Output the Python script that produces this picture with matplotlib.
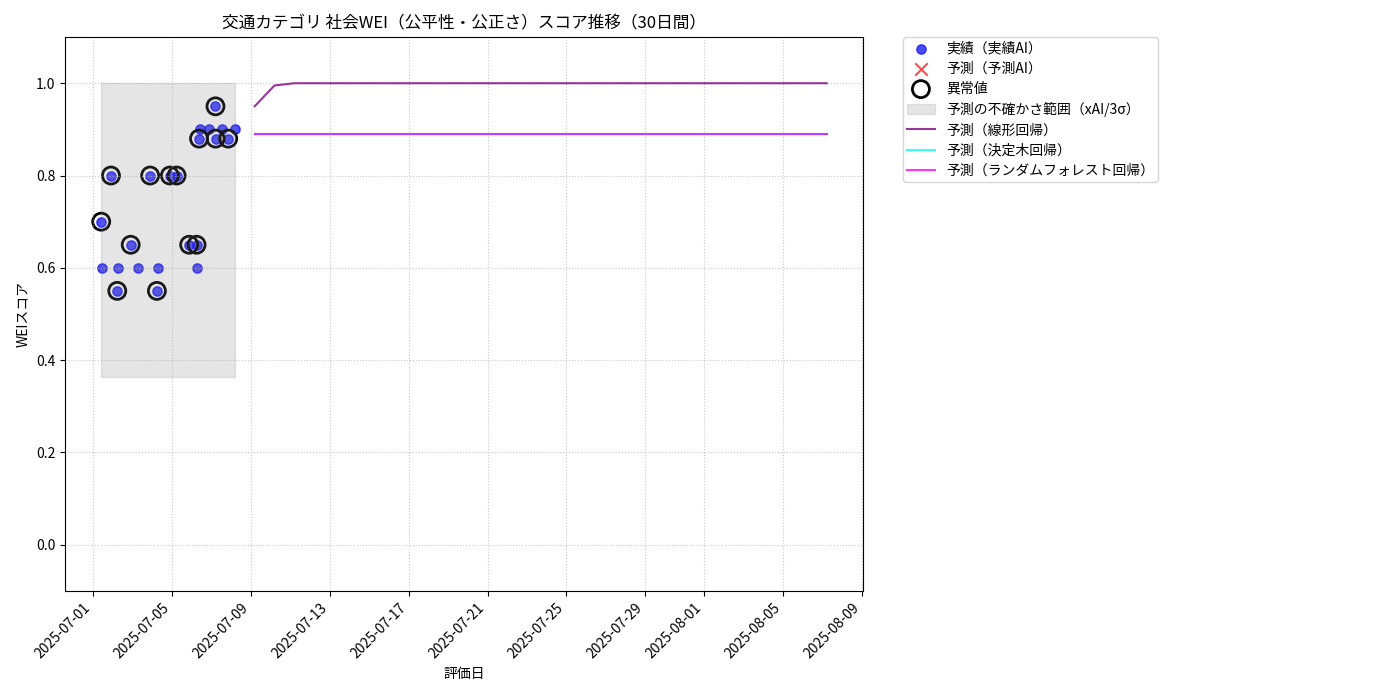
#!/usr/bin/env python3
"""
交通カテゴリ 社会WEI スコア推移 (実績 + 予測)
"""

import numpy as np
import pandas as pd
import matplotlib
matplotlib.use('Agg')
import matplotlib.pyplot as plt

plt.rcParams['font.family'] = ['Noto Sans CJK JP', 'DejaVu Sans']

# 実績データ
actual_dates = [
    '2025-07-01 10:00', '2025-07-01 10:40', '2025-07-01 21:50',
    '2025-07-02 05:30', '2025-07-02 06:45', '2025-07-02 21:50',
    '2025-07-03 07:00', '2025-07-03 21:30', '2025-07-04 05:45',
    '2025-07-04 06:30', '2025-07-04 21:30', '2025-07-05 05:45',
    '2025-07-05 21:00', '2025-07-06 06:00', '2025-07-06 06:45',
    '2025-07-06 09:00', '2025-07-06 10:00', '2025-07-06 21:00',
    '2025-07-07 05:00', '2025-07-07 05:10', '2025-07-07 12:30',
    '2025-07-07 20:30', '2025-07-08 04:40',
]
actual_scores = [
    0.70, 0.60, 0.80,
    0.55, 0.60, 0.65,
    0.60, 0.80, 0.55,
    0.60, 0.80, 0.80,
    0.65, 0.65, 0.60,
    0.88, 0.90, 0.90,
    0.95, 0.88, 0.90,
    0.88, 0.90,
]
is_outlier = [
    True, False, True,
    True, False, True,
    False, True, True,
    False, True, True,
    True, True, False,
    True, False, False,
    True, True, False,
    True, False,
]

# 不確かさ範囲 (xAI/3σ)
band_low = 0.364
band_high = 1.0

# 予測 (30日間)
pred_days = 30
linear_pred = [0.95, 0.995] + [1.0] * 28
tree_pred = [0.89] * 30
forest_pred = [0.89] * 30

dates = pd.to_datetime(actual_dates)
scores = np.array(actual_scores)
outlier = np.array(is_outlier)
pred_dates = dates[-1] + pd.to_timedelta(np.arange(1, pred_days + 1), unit='D')

fig = plt.figure(figsize=(14, 7), dpi=100)
ax = fig.add_axes([0.0464, 0.156, 0.570, 0.791])

ax.scatter(dates, scores, c='blue', alpha=0.7, s=45, label='実績（実績AI）')
ax.scatter([], [], c='red', marker='x', alpha=0.7, s=80, label='予測（予測AI）')
ax.scatter(dates[outlier], scores[outlier], facecolors='none',
           edgecolors='black', linewidths=2, s=150, label='異常値')
ax.fill_between([dates[0], dates[-1]], band_low, band_high, color='gray',
                alpha=0.2, label='予測の不確かさ範囲（xAI/3σ）')
ax.plot(pred_dates, linear_pred, color='purple', alpha=0.8, lw=1.5,
        label='予測（線形回帰）')
ax.plot(pred_dates, tree_pred, color='cyan', alpha=0.8, lw=1.5,
        label='予測（決定木回帰）')
ax.plot(pred_dates, forest_pred, color='magenta', alpha=0.8, lw=1.5,
        label='予測（ランダムフォレスト回帰）')

ax.set_ylim(-0.1, 1.1)
ax.set_title('交通カテゴリ 社会WEI（公平性・公正さ）スコア推移（30日間）', fontsize=12)
ax.set_xlabel('評価日')
ax.set_ylabel('WEIスコア')
ax.grid(True, linestyle=':', alpha=0.7)
plt.setp(ax.get_xticklabels(), rotation=45, ha='right')
ax.legend(bbox_to_anchor=(1.05, 1), loc='upper left', borderaxespad=0,
          labelspacing=0.45, borderpad=0.3)

plt.savefig('out.png')
